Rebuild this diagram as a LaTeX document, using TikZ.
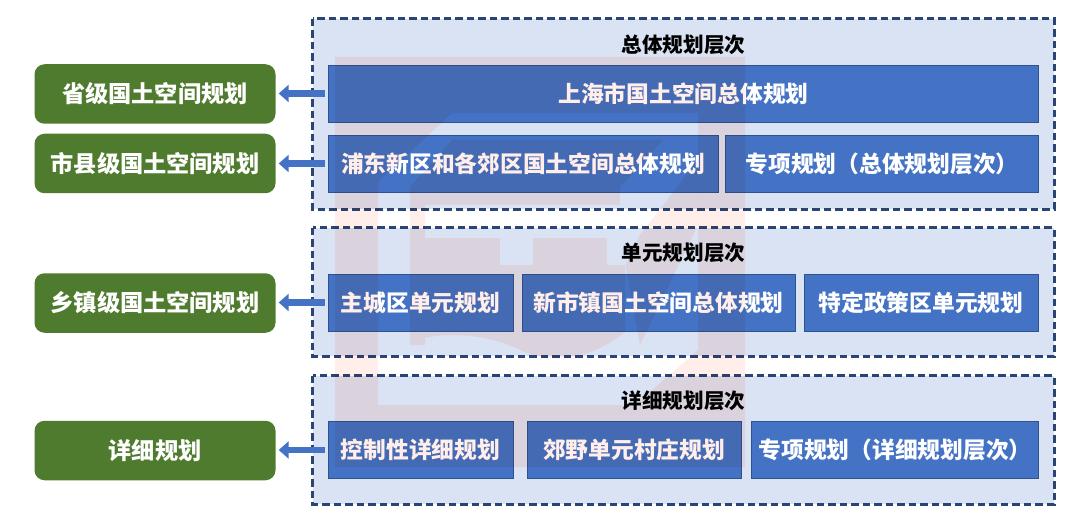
\documentclass[tikz,border=0pt]{standalone}
\usepackage{fontspec}
\usetikzlibrary{arrows.meta}
\newfontfamily\cjk{Noto Sans CJK SC}
\definecolor{panelfill}{HTML}{DAE3F3}
\definecolor{dashc}{HTML}{2A4474}
\definecolor{boxfill}{HTML}{4472C4}
\definecolor{boxedge}{HTML}{2F528F}
\definecolor{greenfill}{HTML}{4F7B2E}
\definecolor{wm}{HTML}{FFEEEA}
\tikzset{
  panel/.style={fill=panelfill,minimum width=741pt,inner sep=0pt},
  paneledge/.style={draw=dashc,line width=3pt,dash pattern=on 7.5pt off 4pt},
  bluebox/.style={draw=boxedge,line width=.6pt,fill=boxfill,text=white,font=\cjk\bfseries\fontsize{22.75pt}{26pt}\selectfont,minimum height=57pt,inner sep=0pt},
  greenbox/.style={fill=greenfill,text=white,font=\cjk\bfseries\fontsize{23.2pt}{26pt}\selectfont,rounded corners=10pt,minimum width=241pt,minimum height=59.5pt,inner sep=0pt},
  header/.style={text=black,font=\cjk\bfseries\fontsize{20.6pt}{24pt}\selectfont,inner sep=0pt},
  linkarrow/.style={draw=boxfill,line width=6.5pt,-{Triangle[length=10pt,width=17pt]},shorten <=3pt,shorten >=3pt},
  wmark/.style={fill=wm,blend mode=multiply}
}
\begin{document}
\begin{tikzpicture}[x=1pt,y=-1pt]
\useasboundingbox (0,0) rectangle (1080,524);
\fill[white] (0,0) rectangle (1080,524);
% panels
\node[panel,minimum height=190pt] (p1) at (683.5,114) {};
\node[panel,minimum height=128pt] (p2) at (683.5,292) {};
\node[panel,minimum height=128pt] (p3) at (683.5,440) {};
\draw[paneledge] (p1.north west) rectangle (p1.south east);
\draw[paneledge] (p2.north west) rectangle (p2.south east);
\draw[paneledge] (p3.north west) rectangle (p3.south east);
\node[header] (h1) at (683.5,45) {总体规划层次};
\node[header] (h2) at (683.5,253) {单元规划层次};
\node[header] (h3) at (683.5,401) {详细规划层次};
% blue boxes
\node[bluebox,minimum width=710pt] (a) at (683.5,93.5) {上海市国土空间总体规划};
\node[bluebox,minimum width=390pt] (b1) at (523,163.5) {浦东新区和各郊区国土空间总体规划};
\node[bluebox,minimum width=313pt] (b2) at (882,163.5) {专项规划（总体规划层次）};
\node[bluebox,minimum width=185pt] (c1) at (420.5,302.5) {主城区单元规划};
\node[bluebox,minimum width=273pt] (c2) at (658.5,302.5) {新市镇国土空间总体规划};
\node[bluebox,minimum width=234pt] (c3) at (921,302.5) {特定政策区单元规划};
\node[bluebox,minimum width=185pt] (d1) at (420.5,450) {控制性详细规划};
\node[bluebox,minimum width=214pt] (d2) at (634,450) {郊野单元村庄规划};
\node[bluebox,minimum width=287pt] (d3) at (895,450) {专项规划（详细规划层次）};
% green boxes
\node[greenbox] (g1) at (155,94) {省级国土空间规划};
\node[greenbox] (g2) at (155,163.5) {市县级国土空间规划};
\node[greenbox] (g3) at (155,303) {乡镇级国土空间规划};
\node[greenbox] (g4) at (155,450.5) {详细规划};
% connectors
\draw[linkarrow] (a.west) -- (a.west -| g1.east);
\draw[linkarrow] (b1.west) -- (b1.west -| g2.east);
\draw[linkarrow] (c1.west) -- (c1.west -| g3.east);
\draw[linkarrow] (d1.west) -- (d1.west -| g4.east);
% faint watermark laid over everything
\begin{scope}[wmark]
\fill[even odd rule]
  (335,57) rectangle (745,467)
  (378,182) -- (452,113) -- (698,113) -- (698,350) -- (635,405) -- (378,405) -- cycle;
\fill (452,140) -- (663,140) -- (620,187) -- (620,205) -- (425,205) -- (425,345) -- (410,345) -- (410,187) -- cycle;
\fill (425,238) rectangle (500,265);
\fill (533,238) rectangle (607,265);
\fill (425,265) -- (625,265) -- (625,332) .. controls (590,360) and (550,365) .. (520,350) .. controls (490,335) and (450,332) .. (425,338) -- cycle;
\fill (640,345) -- (625.5,265) -- (640,235) -- (698,160) -- (698,225) -- cycle;
\end{scope}
\end{tikzpicture}
\end{document}
